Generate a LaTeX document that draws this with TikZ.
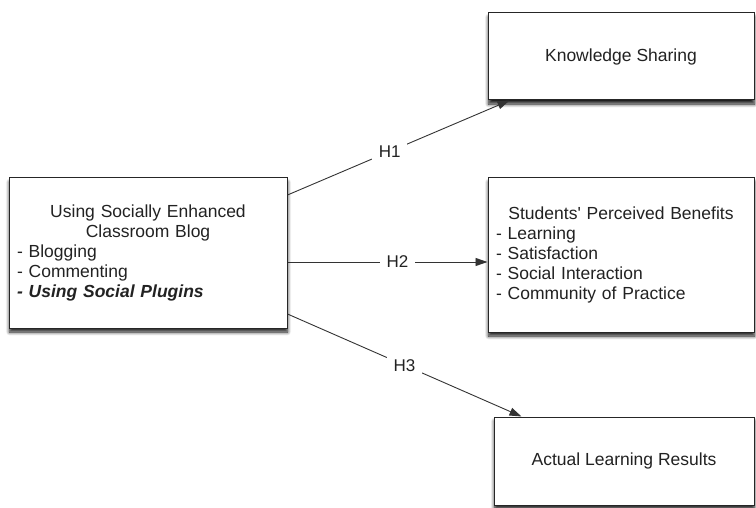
\documentclass[tikz,border=0pt]{standalone}
\usepackage{fontspec}
\setmainfont{Liberation Sans}[Ligatures=TeXOff]
\usetikzlibrary{arrows.meta,shadows.blur}
\definecolor{txt}{HTML}{222222}
\definecolor{ln}{HTML}{333333}
\begin{document}
\begin{tikzpicture}[x=1pt,y=1pt,
  box/.style={draw=black!85, line width=1pt, fill=white, inner sep=0pt,
    blur shadow={shadow xshift=0.5pt, shadow yshift=-4pt, shadow blur steps=8, shadow blur radius=3.5pt, shadow opacity=90},
    font=\fontsize{17.5}{20}\selectfont, text=txt},
  conn/.style={draw=ln, line width=0.9pt, -{Triangle[length=12pt,width=8pt]}},
  lab/.style={fill=white, inner sep=7pt, font=\fontsize{17}{20}\selectfont, text=txt}]
\useasboundingbox (0,0) rectangle (756,-508);
\node[box, minimum width=278, minimum height=150] (lb) at (148,-253) {};
\node[text width=262, inner sep=0pt, font=\fontsize{17.5}{20}\selectfont, text=txt] (lbt) at (148,-253)
  {\centering Using Socially Enhanced\par Classroom Blog\par\raggedright - Blogging\par - Commenting\par \textbf{\textit{- Using Social Plugins}}\par};
\node[box, minimum width=266, minimum height=87] (ks) at (621,-56.5) {Knowledge Sharing};
\node[box, minimum width=266, minimum height=154] (sp) at (621,-255) {};
\node[text width=250, inner sep=0pt, font=\fontsize{17.5}{20}\selectfont, text=txt] (spt) at (621,-255)
  {\centering Students' Perceived Benefits\par\raggedright - Learning\par - Satisfaction\par - Social Interaction\par - Community of Practice\par};
\node[box, minimum width=260, minimum height=88] (al) at (624,-461) {Actual Learning Results};
\draw[conn] ([yshift=58]lb.east) -- node[lab, pos=0.46] (h1) {H1} ([xshift=22]ks.south west);
\draw[conn] ([yshift=-9]lb.east) -- node[lab, pos=0.55] (h2) {H2} ([yshift=-7]sp.west);
\draw[conn] ([yshift=-61]lb.east) -- node[lab, pos=0.5] (h3) {H3} ([xshift=28]al.north west);
\end{tikzpicture}
\end{document}
